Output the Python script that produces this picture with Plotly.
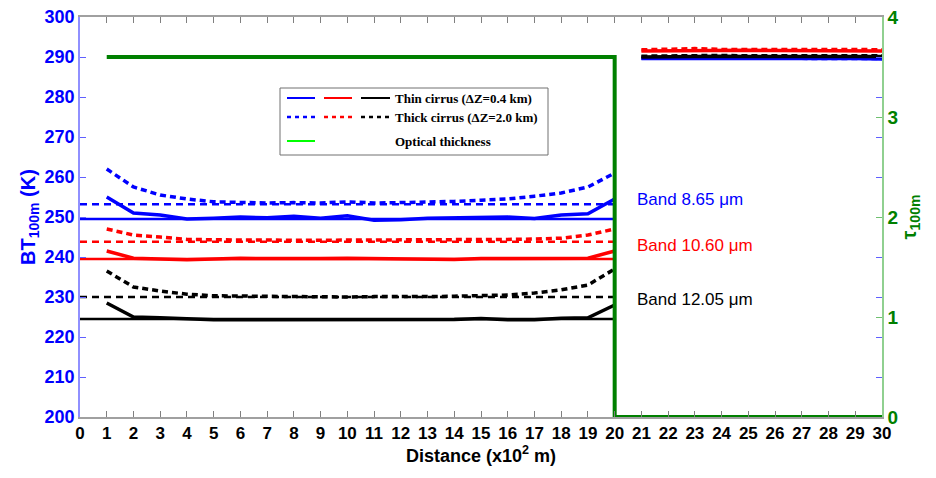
import plotly.graph_objects as go

# ---- data ----
x_left = list(range(1, 21))
x_right = list(range(21, 31))
x_ref = [0, 20]

blue_thin = [255.0, 251.0, 250.5, 249.5, 249.7, 250.0, 249.8, 250.2, 249.7, 250.3,
             249.2, 249.3, 249.7, 249.8, 250.0, 250.0, 249.6, 250.5, 250.8, 254.5]
blue_thick = [262.0, 257.5, 255.5, 254.5, 253.8, 253.6, 253.5, 253.6, 253.5, 253.8,
              253.5, 253.6, 253.7, 253.9, 254.2, 254.5, 255.2, 256.0, 257.5, 261.0]
red_thin = [241.5, 239.7, 239.5, 239.3, 239.5, 239.7, 239.6, 239.5, 239.6, 239.7,
            239.6, 239.6, 239.6, 239.4, 239.6, 239.6, 239.7, 239.6, 239.7, 241.5]
red_thick = [247.0, 245.5, 245.0, 244.4, 244.3, 244.2, 244.2, 244.2, 244.2, 244.2,
             244.2, 244.2, 244.2, 244.2, 244.3, 244.4, 244.5, 244.7, 245.5, 247.0]
black_thin = [228.5, 225.0, 224.8, 224.5, 224.3, 224.3, 224.3, 224.3, 224.4, 224.4,
              224.2, 224.2, 224.3, 224.4, 224.6, 224.3, 224.3, 224.7, 224.8, 228.0]
black_thick = [236.5, 232.5, 231.5, 230.7, 230.3, 230.2, 230.1, 230.0, 230.0, 230.0,
               230.1, 230.0, 230.1, 230.2, 230.3, 230.5, 231.0, 231.8, 233.0, 237.0]

red_thin_r = [291.5, 291.6, 291.7, 291.7, 291.7, 291.6, 291.6, 291.6, 291.6, 291.5]
red_thick_r = [291.8, 291.9, 292.1, 291.9, 292.0, 291.9, 291.9, 292.0, 291.9, 291.8]
black_thin_r = [290.0, 290.1, 290.3, 290.2, 290.1, 290.1, 290.2, 290.2, 290.2, 290.1]
black_thick_r = [290.2, 290.3, 290.5, 290.4, 290.3, 290.3, 290.4, 290.4, 290.4, 290.3]
blue_thin_r = [289.6, 289.6, 289.8, 289.7, 289.6, 289.6, 289.7, 289.7, 289.6, 289.5]
blue_thick_r = [289.7, 289.8, 289.9, 289.8, 289.7, 289.7, 289.8, 289.8, 289.7, 289.6]

ref_blue_thin = [249.5, 249.5]
ref_blue_thick = [253.2, 253.2]
ref_red_thin = [239.5, 239.5]
ref_red_thick = [243.8, 243.8]
ref_black_thin = [224.5, 224.5]
ref_black_thick = [230.0, 230.0]

tau_x = [1, 20, 20, 30]
tau_y = [3.6, 3.6, 0, 0]

x_ticks = list(range(0, 31))
y_ticks = list(range(200, 301, 10))
tau_ticks = [0, 1, 2, 3, 4]

BLUE = "#0000ff"
RED = "#ff0000"
BLACK = "#000000"
GREEN = "#008000"
DASH_REF = "7px,5px"
DASH_CURVE = "6px,4px"

fig = go.Figure()

def add(x, y, color, dash, width, axis="y"):
    fig.add_trace(go.Scatter(x=x, y=y, mode="lines", yaxis=axis, showlegend=False,
                             line=dict(color=color, width=width, dash=dash),
                             hoverinfo="skip"))

# reference horizontal lines
add(x_ref, ref_blue_thin, BLUE, "solid", 2.5)
add(x_ref, ref_blue_thick, BLUE, DASH_REF, 2.5)
add(x_ref, ref_red_thin, RED, "solid", 2.5)
add(x_ref, ref_red_thick, RED, DASH_REF, 2.5)
add(x_ref, ref_black_thin, BLACK, "solid", 2.5)
add(x_ref, ref_black_thick, BLACK, DASH_REF, 2.5)

# curves
add(x_left, blue_thick, BLUE, DASH_CURVE, 3.5)
add(x_left, blue_thin, BLUE, "solid", 3.5)
add(x_left, red_thick, RED, DASH_CURVE, 3.5)
add(x_left, red_thin, RED, "solid", 3.5)
add(x_left, black_thick, BLACK, DASH_CURVE, 3.5)
add(x_left, black_thin, BLACK, "solid", 3.5)

add(x_right, blue_thick_r, BLUE, DASH_CURVE, 3.5)
add(x_right, blue_thin_r, BLUE, "solid", 3.5)
add(x_right, black_thick_r, BLACK, DASH_CURVE, 3.5)
add(x_right, black_thin_r, BLACK, "solid", 3.5)
add(x_right, red_thick_r, RED, DASH_CURVE, 3.5)
add(x_right, red_thin_r, RED, "solid", 3.5)

# optical thickness
add(tau_x, tau_y, GREEN, "solid", 4, axis="y2")

AX = "Liberation Sans"
TM = "Liberation Serif"

fig.update_layout(
    width=928, height=470,
    margin=dict(l=72, r=54, t=9, b=61),
    paper_bgcolor="white", plot_bgcolor="white",
    showlegend=False,
    xaxis=dict(range=[0, 30], tickvals=x_ticks, ticktext=[str(v) for v in x_ticks],
               automargin=False, ticklabeloverflow="allow",
               ticks="inside", ticklen=6, tickcolor="#808080", showgrid=False,
               zeroline=False, showline=True, linecolor="#a0a0a0", linewidth=1.5,
               mirror="ticks",
               tickfont=dict(family=AX, size=17, color="black", weight="bold"),
               title=dict(text="<b>Distance (x10<sup>2</sup> m)</b>",
                          font=dict(family=AX, size=18, color="black"), standoff=2)),
    yaxis=dict(range=[200, 300], tickvals=y_ticks, ticks="inside", ticklen=6,
               automargin=False, ticklabeloverflow="allow",
               tickcolor="#6060ff", showgrid=False, zeroline=False, showline=True,
               linecolor="#9090ff", linewidth=1.5, mirror="ticks",
               tickfont=dict(family=AX, size=18, color=BLUE, weight="bold"),
               title=dict(text="<b>BT<sub>100m</sub> (K)</b>",
                          font=dict(family=AX, size=20, color=BLUE), standoff=4)),
    yaxis2=dict(range=[0, 4], tickvals=tau_ticks, overlaying="y", side="right",
                automargin=False, ticklabeloverflow="allow",
                ticks="inside", ticklen=6, tickcolor="#70c070", showgrid=False,
                zeroline=False, showline=True, linecolor="#90d090", linewidth=1.5,
                tickfont=dict(family=AX, size=19, color=GREEN, weight="bold"),
                title=dict(text="<b>τ<sub>100m</sub></b>",
                           font=dict(family=AX, size=20, color=GREEN), standoff=2)),
)

# band labels
for txt, yv, col in [("Band 8.65 μm", 254.3, BLUE), ("Band 10.60 μm", 242.8, RED),
                     ("Band 12.05 μm", 229.3, BLACK)]:
    fig.add_annotation(x=20.75, y=yv, xref="x", yref="y", text=txt, showarrow=False,
                       xanchor="left", yanchor="middle",
                       font=dict(family=AX, size=17, color=col))

# manual legend (paper coordinates, relative to plot area)
def px(xp):
    return (xp - 80) / 802.0

def py(yp):
    return (417 - yp) / 400.0

fig.add_shape(type="rect", xref="paper", yref="paper", x0=px(280), x1=px(548),
              y0=py(155), y1=py(88), line=dict(color="#707070", width=1),
              fillcolor="white", layer="above")
for (x0, x1, col) in [(287, 315, BLUE), (324, 352, RED), (361, 390, BLACK)]:
    fig.add_shape(type="line", xref="paper", yref="paper", x0=px(x0), x1=px(x1),
                  y0=py(98), y1=py(98), line=dict(color=col, width=2), layer="above")
    fig.add_shape(type="line", xref="paper", yref="paper", x0=px(x0), x1=px(x1),
                  y0=py(117), y1=py(117), line=dict(color=col, width=2.5, dash="4px,4px"),
                  layer="above")
fig.add_shape(type="line", xref="paper", yref="paper", x0=px(287), x1=px(315),
              y0=py(141), y1=py(141), line=dict(color="#00ff00", width=2), layer="above")
for txt, yy in [("Thin cirrus (ΔZ=0.4 km)", 98), ("Thick cirrus (ΔZ=2.0 km)", 117),
                ("Optical thickness", 141)]:
    fig.add_annotation(x=px(393), y=py(yy), xref="paper", yref="paper",
                       text="<b>" + txt + "</b>", showarrow=False, xanchor="left",
                       yanchor="middle", font=dict(family=TM, size=13, color="black"))

fig.write_html("out.html")
